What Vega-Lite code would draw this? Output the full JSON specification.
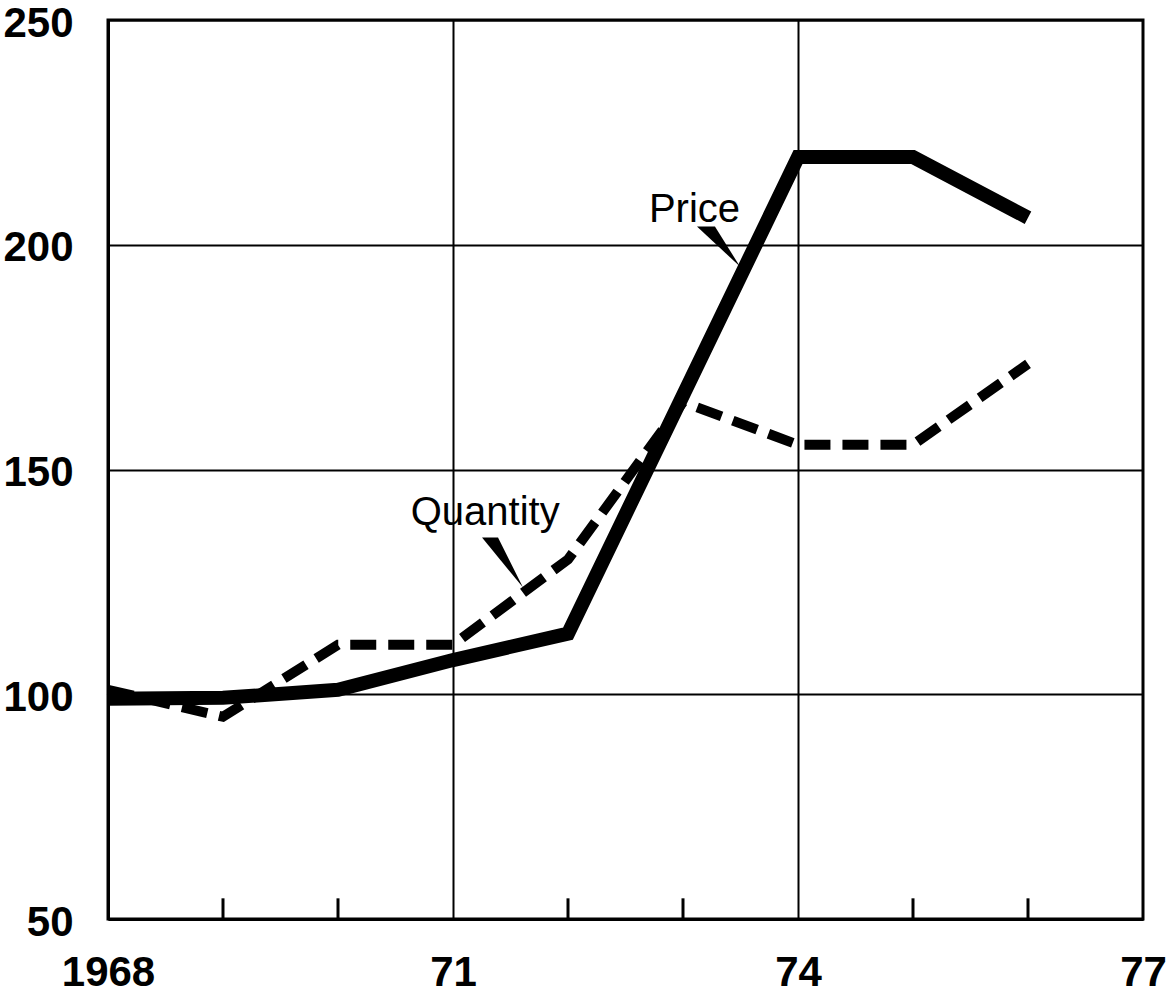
{
  "$schema": "https://vega.github.io/schema/vega-lite/v6.json",
  "width": 1035,
  "height": 899,
  "autosize": "none",
  "padding": {"left": 108, "top": 20, "right": 24, "bottom": 80},
  "background": "white",
  "config": {
    "view": {"stroke": "black", "strokeWidth": 3},
    "font": "Liberation Sans"
  },
  "datasets": {
    "series": [
      {"series": "Price", "year": 1968, "value": 99},
      {"series": "Price", "year": 1969, "value": 99.2},
      {"series": "Price", "year": 1970, "value": 101},
      {"series": "Price", "year": 1971, "value": 107.6},
      {"series": "Price", "year": 1972, "value": 113.5},
      {"series": "Price", "year": 1973, "value": 166.5},
      {"series": "Price", "year": 1974, "value": 219.5},
      {"series": "Price", "year": 1975, "value": 219.5},
      {"series": "Price", "year": 1976, "value": 206},
      {"series": "Quantity", "year": 1968, "value": 101},
      {"series": "Quantity", "year": 1969, "value": 95},
      {"series": "Quantity", "year": 1970, "value": 111},
      {"series": "Quantity", "year": 1971, "value": 111},
      {"series": "Quantity", "year": 1972, "value": 130},
      {"series": "Quantity", "year": 1973, "value": 165},
      {"series": "Quantity", "year": 1974, "value": 155.5},
      {"series": "Quantity", "year": 1975, "value": 155.5},
      {"series": "Quantity", "year": 1976, "value": 173.5}
    ],
    "ticks": [
      {"year": 1969, "value": 50, "value2": 54.6},
      {"year": 1970, "value": 50, "value2": 54.6},
      {"year": 1972, "value": 50, "value2": 54.6},
      {"year": 1973, "value": 50, "value2": 54.6},
      {"year": 1975, "value": 50, "value2": 54.6},
      {"year": 1976, "value": 50, "value2": 54.6}
    ],
    "labels": [
      {"text": "Price", "year": 1973.1, "value": 205},
      {"text": "Quantity", "year": 1971.28, "value": 137.6}
    ],
    "pointers": [
      {"grp": "Price", "year": 1973.278, "value": 199.6},
      {"grp": "Quantity", "year": 1971.409, "value": 129.3}
    ]
  },
  "encoding": {
    "x": {
      "field": "year", "type": "quantitative",
      "scale": {"domain": [1968, 1977], "nice": false, "zero": false},
      "axis": {
        "title": null,
        "values": [1968, 1969, 1970, 1971, 1972, 1973, 1974, 1975, 1976, 1977],
        "labelExpr": "datum.value == 1968 ? '1968' : datum.value == 1971 ? '71' : datum.value == 1974 ? '74' : datum.value == 1977 ? '77' : ''",
        "ticks": false,
        "grid": true,
        "gridColor": "black",
        "gridWidth": 2,
        "gridOpacity": {"condition": {"test": "datum.value == 1971 || datum.value == 1974", "value": 1}, "value": 0},
        "domainColor": "black",
        "domainWidth": 3,
        "labelFont": "Liberation Sans",
        "labelFontSize": 42,
        "labelFontWeight": "bold",
        "labelColor": "black",
        "labelPadding": 33,
        "labelFlush": false,
        "labelOverlap": false
      }
    },
    "y": {
      "field": "value", "type": "quantitative",
      "scale": {"domain": [50, 250], "nice": false, "zero": false},
      "axis": {
        "title": null,
        "values": [50, 100, 150, 200, 250],
        "ticks": false,
        "grid": true,
        "gridColor": "black",
        "gridWidth": 2,
        "domainColor": "black",
        "domainWidth": 3,
        "labelFont": "Liberation Sans",
        "labelFontSize": 42,
        "labelFontWeight": "bold",
        "labelColor": "black",
        "labelPadding": 35,
        "labelOffset": 3,
        "labelFlush": false,
        "labelOverlap": false
      }
    }
  },
  "layer": [
    {
      "data": {"name": "ticks"},
      "mark": {"type": "rule", "color": "black", "strokeWidth": 3},
      "encoding": {"y2": {"field": "value2"}}
    },
    {
      "data": {"name": "series"},
      "transform": [{"filter": "datum.series == 'Quantity'"}],
      "mark": {"type": "line", "color": "black", "strokeWidth": 10, "strokeDash": [26, 12], "strokeJoin": "miter"}
    },
    {
      "data": {"name": "series"},
      "transform": [{"filter": "datum.series == 'Price'"}],
      "mark": {"type": "line", "color": "black", "strokeWidth": 14, "strokeJoin": "miter"}
    },
    {
      "data": {"name": "pointers"},
      "transform": [{"filter": "datum.grp == 'Price'"}],
      "mark": {"type": "point", "filled": true, "color": "black", "opacity": 1, "strokeWidth": 0, "size": 10000, "shape": "M-0.36,-0.4 L0,-0.4 L0.5,0.4 Z"}
    },
    {
      "data": {"name": "pointers"},
      "transform": [{"filter": "datum.grp == 'Quantity'"}],
      "mark": {"type": "point", "filled": true, "color": "black", "opacity": 1, "strokeWidth": 0, "size": 10000, "shape": "M-0.36,-0.5 L-0.04,-0.5 L0.46,0.5 Z"}
    },
    {
      "data": {"name": "labels"},
      "mark": {"type": "text", "color": "black", "fontSize": 40, "font": "Liberation Sans", "align": "center", "baseline": "alphabetic"},
      "encoding": {"text": {"field": "text"}}
    }
  ]
}
